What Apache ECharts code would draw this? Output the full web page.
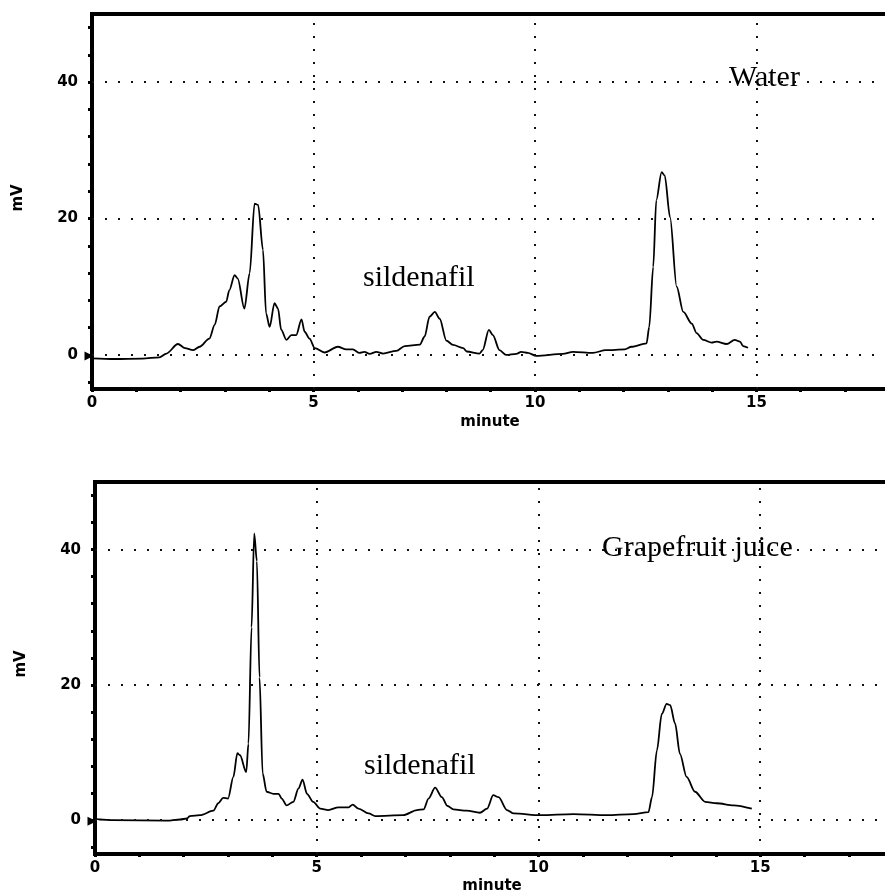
<!DOCTYPE html>
<html>
<head>
<meta charset="utf-8">
<style>
    html, body { margin: 0; padding: 0; background: #fff; }
    #chart { width: 885px; height: 896px; }
</style>
<script src="https://cdn.jsdelivr.net/npm/echarts@6/dist/echarts.min.js"></script>
</head>
<body>
<div id="chart"></div>
<script>
// 水样 (Water) chromatogram: retention time (minute) / signal (mV)
const waterTime = [0, 0.5, 1.14, 1.52, 1.68, 1.94, 2.1, 2.28, 2.43, 2.65, 2.77, 2.88, 3.03, 3.1, 3.22, 3.29, 3.44, 3.56, 3.67, 3.75, 3.86, 3.93, 4.01, 4.12, 4.2, 4.27, 4.39, 4.5, 4.61, 4.73, 4.8, 4.91, 5.03, 5.25, 5.55, 5.74, 5.89, 6.04, 6.15, 6.27, 6.42, 6.57, 6.87, 7.06, 7.4, 7.51, 7.62, 7.74, 7.85, 8.0, 8.15, 8.38, 8.46, 8.75, 8.82, 8.96, 9.05, 9.2, 9.35, 9.58, 9.69, 9.84, 10.03, 10.63, 10.86, 11.31, 11.6, 12.03, 12.18, 12.52, 12.58, 12.67, 12.74, 12.86, 12.93, 13.05, 13.2, 13.35, 13.54, 13.65, 13.8, 13.99, 14.1, 14.33, 14.51, 14.63, 14.7, 14.81]
const waterMv = [-0.5, -0.6, -0.55, -0.35, 0.2, 1.6, 1.0, 0.7, 1.2, 2.4, 4.4, 7.1, 7.8, 9.5, 11.7, 11.2, 6.8, 12.0, 22.2, 22.0, 15.4, 6.1, 4.1, 7.6, 6.8, 3.7, 2.2, 2.9, 2.9, 5.2, 3.4, 2.4, 1.0, 0.35, 1.2, 0.8, 0.8, 0.3, 0.45, 0.15, 0.45, 0.2, 0.6, 1.3, 1.5, 2.7, 5.6, 6.3, 5.3, 2.1, 1.46, 1.0, 0.5, 0.2, 0.7, 3.66, 2.9, 0.7, 0.0, 0.15, 0.45, 0.3, -0.15, 0.15, 0.45, 0.3, 0.7, 0.8, 1.2, 1.7, 4.1, 12.9, 22.7, 26.8, 26.3, 20.2, 10.0, 6.3, 4.6, 3.2, 2.2, 1.8, 1.95, 1.6, 2.2, 1.95, 1.3, 1.05]

// 葡萄柚汁 (Grapefruit juice) chromatogram
const juiceTime = [0, 0.11, 0.41, 1.62, 1.92, 2.07, 2.14, 2.37, 2.67, 2.78, 2.89, 3.0, 3.12, 3.21, 3.27, 3.41, 3.46, 3.53, 3.59, 3.65, 3.71, 3.78, 3.87, 4.02, 4.14, 4.21, 4.32, 4.47, 4.59, 4.68, 4.78, 4.92, 5.08, 5.26, 5.49, 5.72, 5.81, 5.94, 6.17, 6.32, 6.95, 7.26, 7.41, 7.52, 7.67, 7.82, 7.95, 8.08, 8.38, 8.68, 8.84, 8.98, 9.1, 9.29, 9.44, 10.04, 10.79, 11.54, 12.14, 12.48, 12.56, 12.67, 12.78, 12.89, 12.97, 13.08, 13.19, 13.34, 13.53, 13.76, 14.02, 14.4, 14.81]
const juiceMv = [0.25, 0.1, 0, -0.08, 0.1, 0.25, 0.6, 0.74, 1.4, 2.5, 3.3, 3.2, 6.4, 9.9, 9.6, 7.1, 11.3, 28.5, 42.4, 38.3, 21.1, 6.9, 4.2, 3.9, 3.9, 3.2, 2.2, 2.7, 4.7, 6.0, 3.9, 2.7, 1.7, 1.5, 1.9, 1.9, 2.3, 1.7, 1.0, 0.6, 0.74, 1.5, 1.6, 3.2, 4.8, 3.4, 2.1, 1.6, 1.4, 1.1, 1.7, 3.7, 3.4, 1.5, 1.0, 0.74, 0.9, 0.74, 0.9, 1.2, 3.4, 10.3, 15.7, 17.2, 17.0, 14.3, 9.8, 6.4, 4.2, 2.7, 2.5, 2.2, 1.7]

// 刻度
const yTickValues = [-4, 0, 4, 8, 12, 16, 20, 24, 28, 32, 36, 40, 44, 48]
const yLabelValues = [0, 20, 40]
const xLabelStep = 5
const gridValuesY = [0, 20, 40]
const gridValuesX = [5, 10, 15]

const labelFont = { color: '#000', fontFamily: 'DejaVu Sans', fontWeight: 'bold', fontSize: 15 }
const noteFont = { fill: '#000', fontFamily: 'Liberation Serif', fontSize: 30 }

const pair = (xs, ys) => xs.map((x, i) => [x, ys[i]])

const xAxisOf = (gridIndex) => ({
    type: 'value',
    gridIndex,
    min: 0,
    max: 18.4,
    interval: 1,
    axisLine: { onZero: false, lineStyle: { color: '#000', width: 4 } },
    axisTick: { length: 3, lineStyle: { color: '#000', width: 3 } },
    axisLabel: {
        ...labelFont,
        margin: 7,
        formatter: v => (v % xLabelStep === 0 ? String(v) : '')
    },
    splitLine: { show: false }
})

const yAxisOf = (gridIndex) => ({
    type: 'value',
    gridIndex,
    min: -5,
    max: 50,
    axisLine: { show: true, onZero: false, lineStyle: { color: '#000', width: 4 } },
    axisTick: { show: true, length: 4, customValues: yTickValues, lineStyle: { color: '#000', width: 3 } },
    axisLabel: { ...labelFont, margin: 14, customValues: yLabelValues },
    splitLine: { show: false }
})

const seriesOf = (index, data) => ({
    type: 'line',
    xAxisIndex: index,
    yAxisIndex: index,
    data,
    showSymbol: false,
    smooth: 0.3,
    smoothMonotone: 'x',
    lineStyle: { color: '#000', width: 1.8 },
    silent: true,
    markLine: {
        silent: true,
        symbol: 'none',
        label: { show: false },
        lineStyle: { color: '#111', width: 2, type: [2, 11] },
        data: [
            ...gridValuesY.map(v => ({ yAxis: v })),
            ...gridValuesX.map(v => ({ xAxis: v }))
        ]
    },
    markPoint: {
        silent: true,
        symbol: 'triangle',
        symbolRotate: -90,
        symbolSize: [9, 9],
        symbolOffset: [-3, 1],
        itemStyle: { color: '#000' },
        label: { show: false },
        data: [{ coord: [0, 0] }]
    }
})

const chart = echarts.init(document.getElementById('chart'), null, { renderer: 'canvas' })

const gridBase = { show: true, borderColor: '#000', borderWidth: 4, backgroundColor: 'transparent', outerBoundsMode: 'none', containLabel: false }

const option = {
    animation: false,
    backgroundColor: '#fff',
    grid: [
        { ...gridBase, left: 92, top: 14, width: 815, height: 375 },
        { ...gridBase, left: 95, top: 482, width: 816, height: 372 }
    ],
    xAxis: [xAxisOf(0), xAxisOf(1)],
    yAxis: [yAxisOf(0), yAxisOf(1)],
    series: [
        seriesOf(0, pair(waterTime, waterMv)),
        seriesOf(1, pair(juiceTime, juiceMv))
    ],
    graphic: [
        // 坐标轴名称
        { type: 'text', x: 18, y: 198, rotation: Math.PI / 2, style: { text: 'mV', ...labelFont, fill: '#000', align: 'center', verticalAlign: 'middle' } },
        { type: 'text', x: 21, y: 664, rotation: Math.PI / 2, style: { text: 'mV', ...labelFont, fill: '#000', align: 'center', verticalAlign: 'middle' } },
        { type: 'text', x: 490, y: 422, style: { text: 'minute', ...labelFont, fill: '#000', align: 'center', verticalAlign: 'middle' } },
        { type: 'text', x: 492, y: 886, style: { text: 'minute', ...labelFont, fill: '#000', align: 'center', verticalAlign: 'middle' } },
        // 注释
        { type: 'text', x: 729, y: 78, style: { text: 'Water', ...noteFont, verticalAlign: 'middle' } },
        { type: 'text', x: 363, y: 278, style: { text: 'sildenafil', ...noteFont, verticalAlign: 'middle' } },
        { type: 'text', x: 602, y: 548, style: { text: 'Grapefruit juice', ...noteFont, verticalAlign: 'middle' } },
        { type: 'text', x: 364, y: 766, style: { text: 'sildenafil', ...noteFont, verticalAlign: 'middle' } }
    ]
}

chart.setOption(option)
</script>
</body>
</html>
